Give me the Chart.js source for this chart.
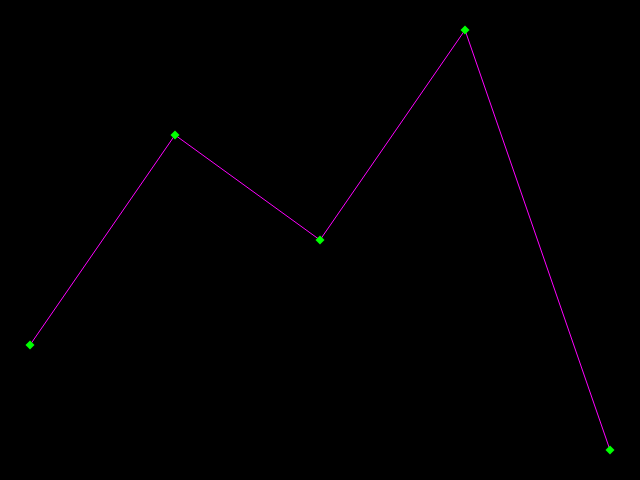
<!DOCTYPE html>
<html><head><meta charset="utf-8">
<script src="https://cdn.jsdelivr.net/npm/chart.js@4"></script>
<style>html,body{margin:0;padding:0;background:#000;}#w{width:640px;height:480px;}</style>
</head><body><div id="w"><canvas id="c" width="640" height="480"></canvas></div>
<script>
const categories = ['1', '2', '3', '4', '5'];
const values = [1, 3, 2, 4, 0];
new Chart(document.getElementById('c'), {
  type: 'line',
  data: { labels: categories, datasets: [{ data: values, borderColor: '#ff00ff', borderWidth: 1, tension: 0, clip: false,
    pointStyle: 'rectRot', pointRadius: 4.5, pointBackgroundColor: '#00ff00', pointBorderColor: '#00ff00', pointBorderWidth: 0 }] },
  options: {
    responsive: false, animation: false,
    layout: { padding: 30 },
    plugins: { legend: { display: false }, tooltip: { enabled: false } },
    scales: {
      x: { display: false, offset: false },
      y: { display: false, min: 0, max: 4 }
    }
  }
});
</script></body></html>
